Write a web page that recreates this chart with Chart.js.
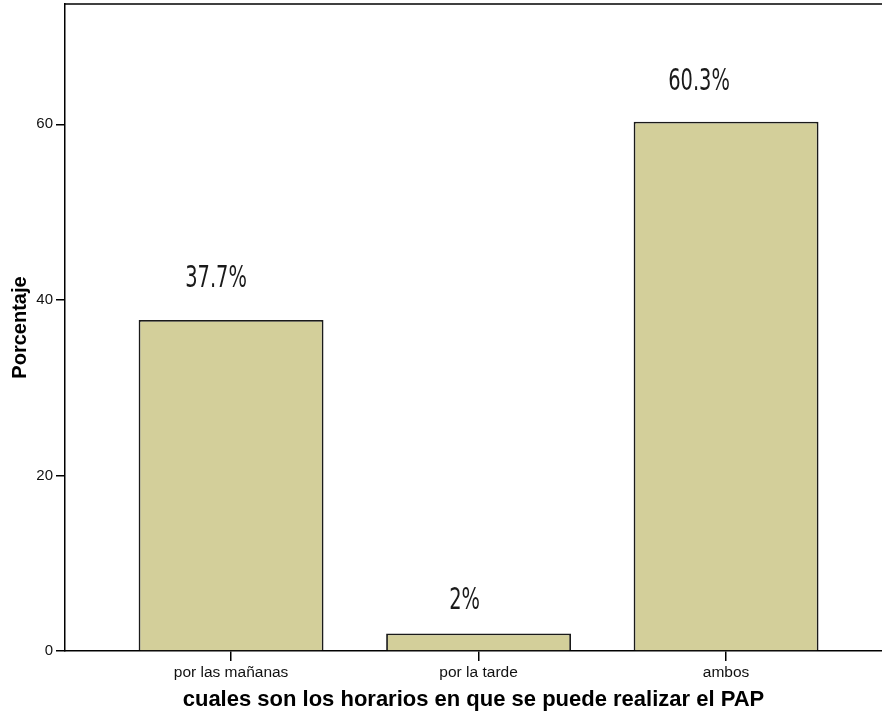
<!DOCTYPE html>
<html>
<head>
<meta charset="utf-8">
<script src="https://cdn.jsdelivr.net/npm/chart.js@4"></script>
<style>
    body { margin: 0; background: #fff; }
    #wrap { width: 882px; height: 714px; }
</style>
</head>
<body>
<div id="wrap"><canvas id="main-graph" width="882" height="714"></canvas></div>
<script>
// categories and values (percent)
const categories = ['por las mañanas', 'por la tarde', 'ambos'];
const percentages = [37.7, 2, 60.3];
const valueLabels = ['37.7%', '2%', '60.3%'];
const yTicks = [0, 20, 40, 60];

// label nudges as drawn by the original (dx, dy from bar top)
const labelNudge = [[-15, -33], [-14, -24], [-27, -32]];

const barPoints = percentages.map((v, i) => ({ x: i, y: v }));

// draws the percent text above each bar + the top frame line
const extras = {
    id: 'extras',
    afterDatasetsDraw(chart) {
        const ctx = chart.ctx;
        const meta = chart.getDatasetMeta(0);
        ctx.save();
        ctx.fillStyle = '#1a1a1a';
        ctx.font = '30px "Liberation Sans Narrow", "DejaVu Sans Condensed", sans-serif';
        ctx.textAlign = 'center';
        ctx.textBaseline = 'alphabetic';
        meta.data.forEach((bar, i) => {
            const x = bar.x + labelNudge[i][0];
            const y = bar.y + labelNudge[i][1];
            ctx.save();
            ctx.translate(x, y);
            ctx.scale(0.72, 1);
            ctx.fillText(valueLabels[i], 0, 0);
            ctx.restore();
        });
        ctx.restore();
    },
    afterDraw(chart) {
        const { ctx, chartArea } = chart;
        ctx.save();
        ctx.strokeStyle = '#000';
        ctx.lineWidth = 1.5;
        ctx.beginPath();
        ctx.moveTo(chartArea.left, chartArea.top);
        ctx.lineTo(chartArea.right, chartArea.top);
        ctx.stroke();
        ctx.restore();
    },
};

const config = {
    type: 'bar',
    data: {
        datasets: [
            {
                data: barPoints,
                backgroundColor: '#d3cf9a',
                borderColor: '#1a1a1a',
                borderWidth: 1.8,
                barPercentage: 0.747,
                categoryPercentage: 1,
            },
        ],
    },
    options: {
        responsive: false,
        animation: false,
        layout: { padding: { top: 4, right: 0, left: 0, bottom: 0 } },
        plugins: {
            legend: { display: false },
            tooltip: { enabled: false },
        },
        scales: {
            x: {
                type: 'linear',
                min: -0.671,
                max: 2.63,
                offset: false,
                afterBuildTicks: (s) => {
                    s.ticks = categories.map((c, i) => ({ value: i }));
                },
                afterFit: (s) => {
                    s.height = 63;
                    s.paddingLeft = 0;
                    s.paddingRight = 0;
                },
                ticks: {
                    color: '#111',
                    font: { family: 'Arial, "Liberation Sans", sans-serif', size: 15.5 },
                    padding: 2,
                    maxRotation: 0,
                    autoSkip: false,
                    callback: (v) => categories[v] ?? '',
                },
                grid: {
                    display: true,
                    offset: false,
                    drawOnChartArea: false,
                    drawTicks: true,
                    tickLength: 10,
                    color: '#000',
                    lineWidth: 1.5,
                },
                border: { color: '#000', width: 1.5 },
                title: {
                    display: true,
                    text: 'cuales son los horarios en que se puede realizar el PAP',
                    color: '#000',
                    font: { family: 'Arial, "Liberation Sans", sans-serif', size: 22, weight: 'bold' },
                    padding: { top: 0, bottom: 1 },
                },
            },
            y: {
                min: 0,
                max: 73.7,
                afterBuildTicks: (s) => {
                    s.ticks = yTicks.map((v) => ({ value: v }));
                },
                afterFit: (s) => {
                    s.width = 65;
                    s.paddingTop = 0;
                    s.paddingBottom = 0;
                },
                ticks: {
                    color: '#111',
                    font: { family: 'Arial, "Liberation Sans", sans-serif', size: 15 },
                    padding: 3,
                },
                grid: {
                    display: true,
                    drawOnChartArea: false,
                    drawTicks: true,
                    tickLength: 9,
                    color: '#000',
                    lineWidth: 1.5,
                },
                border: { color: '#000', width: 1.5 },
                title: {
                    display: true,
                    text: 'Porcentaje',
                    color: '#000',
                    font: { family: 'Arial, "Liberation Sans", sans-serif', size: 20, weight: 'bold' },
                    padding: { top: 8, bottom: 0 },
                },
            },
        },
    },
    plugins: [extras],
};

const mainGraph = new Chart(document.getElementById('main-graph'), config);
</script>
</body>
</html>
